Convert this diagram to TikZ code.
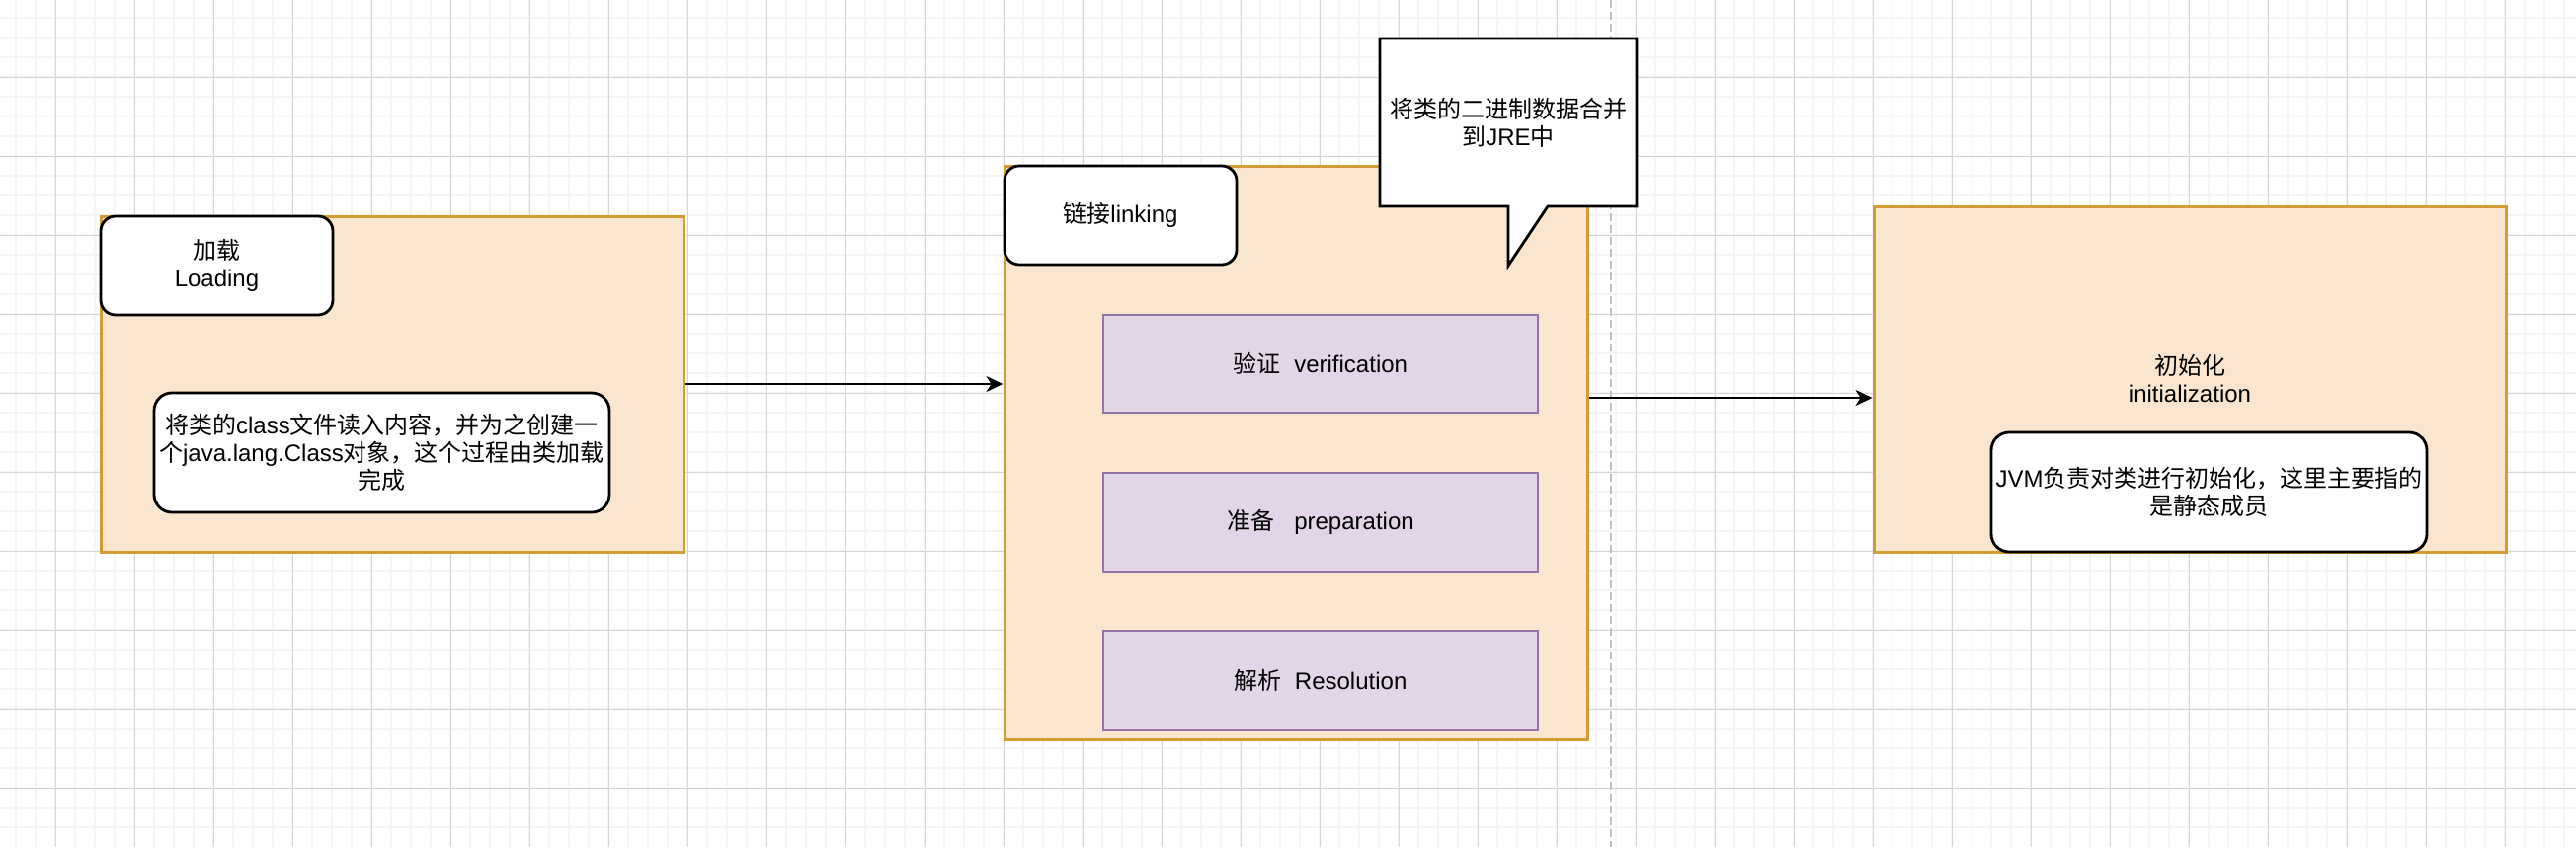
\documentclass[tikz,border=0pt]{standalone}
\usepackage{fontspec}
\setmainfont{Liberation Sans}
\newfontfamily\cjk{Noto Sans CJK SC}
\newcommand\zh[1]{{\cjk #1}}
\usetikzlibrary{arrows.meta,calc}
\definecolor{ofill}{HTML}{FAE6CF}
\definecolor{odraw}{HTML}{D49C35}
\definecolor{pfill}{HTML}{E1D5E7}
\definecolor{pdraw}{HTML}{9673A6}
\definecolor{gminor}{HTML}{F5F5F5}
\definecolor{gmajor}{HTML}{D6D6D6}
\definecolor{pageline}{HTML}{C0C0C0}
% box from corners (pixel coords): style, name, x1, y1, x2, y2, text
\newcommand\bx[7]{%
  \pgfmathsetmacro\bxcx{(#3+#5)/2}%
  \pgfmathsetmacro\bxcy{(#4+#6)/2}%
  \pgfmathsetmacro\bxw{(#5-#3)*0.5}%
  \pgfmathsetmacro\bxh{(#6-#4)*0.5}%
  \node[#1, minimum width=\bxw pt, minimum height=\bxh pt] (#2) at (\bxcx,\bxcy) {#7};}
\begin{document}
\begin{tikzpicture}[x=0.5pt,y=-0.5pt,
  txt/.style={font=\fontsize{12pt}{14pt}\selectfont, align=center, inner sep=0pt, text=black},
  orangebox/.style={txt, rectangle, draw=odraw, fill=ofill, line width=1.5pt},
  purplebox/.style={txt, rectangle, draw=pdraw, fill=pfill, line width=1.4pt},
  titlebox/.style={txt, rectangle, rounded corners=7.5pt, draw=black, fill=white, line width=1.4pt},
  descbox/.style={txt, rectangle, rounded corners=9pt, draw=black, fill=white, line width=1.4pt},
  notebox/.style={draw=black, fill=white, line width=1.4pt, line join=miter},
  arr/.style={line width=1pt, -{Stealth[length=8.5pt,width=8pt,inset=2.5pt]}},
  gridminor/.style={draw=gminor, line width=0.9pt},
  gridmajor/.style={draw=gmajor, line width=0.5pt},
  pagebreak/.style={draw=pageline, line width=1pt, dash pattern=on 4pt off 2pt}
]
\useasboundingbox (0,0) rectangle (2608,858);
\fill[white] (0,0) rectangle (2608,858);
% grid
\foreach \x in {16,36,...,2600} \draw[gridminor] (\x,0) -- (\x,858);
\foreach \y in {18,38,...,850} \draw[gridminor] (0,\y) -- (2608,\y);
\foreach \x in {56,136,...,2600} \draw[gridmajor] (\x,0) -- (\x,858);
\foreach \y in {78,158,...,850} \draw[gridmajor] (0,\y) -- (2608,\y);
\draw[pagebreak] (1631,0) -- (1631,858);

% Loading
\bx{orangebox}{load}{102}{219}{692}{559}{}
\bx{titlebox}{loadt}{102}{219}{337}{319}{\zh{加载}\\Loading}
\bx{descbox}{loadd}{156}{398}{617}{519}{\zh{将类的}class\zh{文件读入内容，并为之创建一}\\\zh{个}java.lang.Class\zh{对象，这个过程由类加载}\\\zh{完成}}

% Linking
\bx{orangebox}{link}{1017}{168}{1607}{749}{}
\bx{titlebox}{linkt}{1017}{168}{1252}{268}{\zh{链接}linking}
\bx{purplebox}{ver}{1117}{319}{1557}{418}{\zh{验证}\ \ verification}
\bx{purplebox}{prep}{1117}{479}{1557}{579}{\zh{准备}\ \ \ preparation}
\bx{purplebox}{res}{1117}{639}{1557}{739}{\zh{解析}\ \ Resolution}

% callout
\path[notebox] (1397,39) -- (1657,39) -- (1657,209) -- (1567,209) -- (1527,269) -- (1527,209) -- (1397,209) -- cycle;
\node[txt] (note) at (1527,124) {\zh{将类的二进制数据合并}\\\zh{到}JRE\zh{中}};

% Initialization
\bx{orangebox}{init}{1897}{209}{2537}{559}{\zh{初始化}\\initialization}
\bx{descbox}{initd}{2016}{438}{2457}{559}{JVM\zh{负责对类进行初始化，这里主要指的}\\\zh{是静态成员}}

% connectors
\draw[arr] (load.east) -- (load.east -| link.west);
\draw[arr] (link.east |- 0,403) -- (init.west |- 0,403);
\end{tikzpicture}
\end{document}
